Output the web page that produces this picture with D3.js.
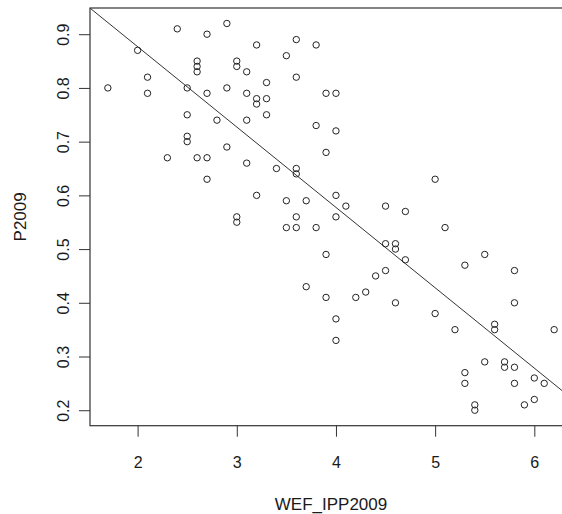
<!DOCTYPE html>
<html>
<head>
<meta charset="utf-8">
<script src="https://cdn.jsdelivr.net/npm/d3@7"></script>
<style>
  html, body { margin: 0; padding: 0; background: #fff; }
  svg text { font-family: "Liberation Sans", Arial, sans-serif; fill: #1a1a1a; }
</style>
</head>
<body>
<div id="chart"></div>
<script>
// WEF_IPP2009 (x) vs P2009 (y)
const wefIpp = [
    1.7, 2.0, 2.1, 2.1, 2.3, 2.4, 2.5, 2.5, 2.5, 2.5,
    2.6, 2.6, 2.6, 2.6, 2.7, 2.7, 2.7, 2.7, 2.8, 2.9,
    2.9, 2.9, 3.0, 3.0, 3.0, 3.0, 3.1, 3.1, 3.1, 3.1,
    3.2, 3.2, 3.2, 3.2, 3.3, 3.3, 3.3, 3.4, 3.5, 3.5,
    3.5, 3.6, 3.6, 3.6, 3.6, 3.6, 3.6, 3.7, 3.7, 3.8,
    3.8, 3.8, 3.9, 3.9, 3.9, 3.9, 4.0, 4.0, 4.0, 4.0,
    4.0, 4.0, 4.1, 4.2, 4.3, 4.4, 4.5, 4.5, 4.5, 4.6,
    4.6, 4.6, 4.7, 4.7, 5.0, 5.0, 5.1, 5.2, 5.3, 5.3,
    5.3, 5.4, 5.4, 5.5, 5.5, 5.6, 5.6, 5.7, 5.7, 5.8,
    5.8, 5.8, 5.8, 5.9, 6.0, 6.0, 6.1, 6.2
];
const p2009 = [
    0.80, 0.87, 0.82, 0.79, 0.67, 0.91, 0.80, 0.75, 0.71, 0.70,
    0.85, 0.84, 0.83, 0.67, 0.90, 0.79, 0.67, 0.63, 0.74, 0.92,
    0.80, 0.69, 0.85, 0.84, 0.56, 0.55, 0.83, 0.79, 0.74, 0.66,
    0.88, 0.78, 0.77, 0.60, 0.81, 0.78, 0.75, 0.65, 0.86, 0.59,
    0.54, 0.89, 0.82, 0.65, 0.64, 0.56, 0.54, 0.59, 0.43, 0.88,
    0.73, 0.54, 0.79, 0.68, 0.49, 0.41, 0.79, 0.72, 0.60, 0.56,
    0.37, 0.33, 0.58, 0.41, 0.42, 0.45, 0.58, 0.51, 0.46, 0.51,
    0.50, 0.40, 0.57, 0.48, 0.63, 0.38, 0.54, 0.35, 0.47, 0.27,
    0.25, 0.21, 0.20, 0.49, 0.29, 0.36, 0.35, 0.29, 0.28, 0.46,
    0.40, 0.28, 0.25, 0.21, 0.26, 0.22, 0.25, 0.35
];
const xTicks = [2, 3, 4, 5, 6];
const yTicks = [0.2, 0.3, 0.4, 0.5, 0.6, 0.7, 0.8, 0.9];
// fitted line
const lineIntercept = 1.176;
const lineSlope = -0.1496;

const width = 562;
const height = 514;
const plot = { left: 90, top: 8, right: 572, bottom: 425.7 };

const points = wefIpp.map((x, i) => ({ x: x, y: p2009[i] }));

// R-style 4% axis extension
const xExt = d3.extent(wefIpp);
const yExt = d3.extent(p2009);
const xPad = (xExt[1] - xExt[0]) * 0.04;
const yPad = (yExt[1] - yExt[0]) * 0.04;

const xScale = d3.scaleLinear()
    .domain([xExt[0] - xPad, xExt[1] + xPad])
    .range([plot.left, plot.right]);

const yScale = d3.scaleLinear()
    .domain([yExt[0] - yPad, yExt[1] + yPad])
    .range([plot.bottom, plot.top]);

const svg = d3.select('#chart').append('svg')
    .attr('width', width)
    .attr('height', height);

svg.append('defs').append('clipPath')
    .attr('id', 'plot-clip')
    .append('rect')
    .attr('x', plot.left)
    .attr('y', plot.top)
    .attr('width', plot.right - plot.left)
    .attr('height', plot.bottom - plot.top);

// Axes
const xAxis = svg.append('g')
    .attr('transform', `translate(0,${plot.bottom})`)
    .call(d3.axisBottom(xScale).tickValues(xTicks).tickSize(11).tickFormat(d3.format('d')));
xAxis.select('.domain').remove();
xAxis.selectAll('.tick line').attr('stroke', '#333');
xAxis.selectAll('.tick text')
    .attr('y', 42)
    .attr('dy', 0)
    .style('font-size', '16px');

const yAxis = svg.append('g')
    .attr('transform', `translate(${plot.left},0)`)
    .call(d3.axisLeft(yScale).tickValues(yTicks).tickSize(11).tickFormat(d3.format('.1f')));
yAxis.select('.domain').remove();
yAxis.selectAll('.tick line').attr('stroke', '#333');
yAxis.selectAll('.tick text')
    .attr('x', 0)
    .attr('dy', 0)
    .attr('transform', 'translate(-21,0) rotate(-90)')
    .attr('text-anchor', 'middle')
    .style('font-size', '16px');

// Box
svg.append('rect')
    .attr('x', plot.left)
    .attr('y', plot.top)
    .attr('width', plot.right - plot.left)
    .attr('height', plot.bottom - plot.top)
    .attr('fill', 'none')
    .attr('stroke', '#333')
    .attr('stroke-width', 1.2);

// Regression line
const xd = xScale.domain();
const lineData = xd.map(x => ({ x: x, y: lineIntercept + lineSlope * x }));
svg.append('path')
    .datum(lineData)
    .attr('clip-path', 'url(#plot-clip)')
    .attr('d', d3.line().x(d => xScale(d.x)).y(d => yScale(d.y)))
    .attr('fill', 'none')
    .attr('stroke', '#333')
    .attr('stroke-width', 1);

// Points
svg.append('g')
    .selectAll('circle')
    .data(points)
    .join('circle')
    .attr('cx', d => xScale(d.x))
    .attr('cy', d => yScale(d.y))
    .attr('r', 3.2)
    .attr('fill', 'none')
    .attr('stroke', '#222')
    .attr('stroke-width', 1);

// Titles
svg.append('text')
    .attr('x', (plot.left + plot.right) / 2)
    .attr('y', 510)
    .attr('text-anchor', 'middle')
    .style('font-size', '17px')
    .text('WEF_IPP2009');

svg.append('text')
    .attr('transform', `translate(26,${(plot.top + plot.bottom) / 2}) rotate(-90)`)
    .attr('text-anchor', 'middle')
    .style('font-size', '17px')
    .text('P2009');
</script>
</body>
</html>
